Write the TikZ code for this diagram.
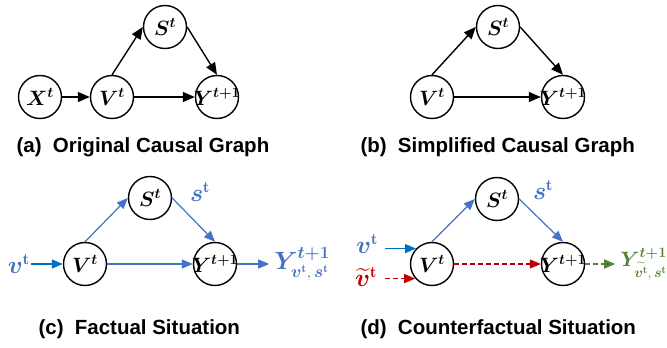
\documentclass[tikz,border=0pt]{standalone}
\usepackage{amsmath, bm}
\usepackage{fontspec}
\newfontfamily\capfont{Liberation Sans}
\usepackage{tikz}
\usetikzlibrary{positioning,arrows.meta}
\definecolor{EdgeBlue}{RGB}{68,114,196}
\definecolor{InBlue}{RGB}{0,112,192}
\definecolor{CfRed}{RGB}{192,0,0}
\definecolor{OutGreen}{RGB}{84,130,53}
\newcommand{\inmath}[1]{\makebox[0pt]{$#1$}}

\begin{document}
\begin{tikzpicture}[
    x=1pt, y=-1pt,
    var/.style={circle, draw=black, line width=1.4pt, minimum size=43pt, inner sep=0pt,
        font=\fontsize{22.5}{27}\selectfont},
    caption/.style={anchor=west, font=\capfont\bfseries\fontsize{20.5}{24}\selectfont},
    lbl/.style={font=\fontsize{23}{27}\selectfont, inner sep=1pt},
    arr/.style={-{Triangle[length=12pt,width=10pt]}, line width=1.4pt},
    barr/.style={-{Triangle[length=11pt,width=9pt]}, line width=1.2pt, draw=EdgeBlue, color=EdgeBlue},
    inarr/.style={barr, draw=InBlue, color=InBlue},
    redarr/.style={barr, draw=CfRed, color=CfRed, dash pattern=on 5pt off 3pt},
    greenarr/.style={barr, draw=OutGreen, color=OutGreen, dash pattern=on 5pt off 3pt},
]
\useasboundingbox (0,0) rectangle (667,348);

% (a) original causal graph
\node[var] (xa) at (40,97) {\inmath{\bm{X^t}}};
\node[var] (va) at (112,97) {\inmath{\bm{V^t}}};
\node[var] (sa) at (165,27) {\inmath{\bm{S^t}}};
\node[var] (ya) at (217,97) {\inmath{\bm{Y^{t+1}}}};
\draw[arr] (xa) -- (va);
\draw[arr] (va.north) -- (sa.west);
\draw[arr] (sa.east) -- (ya.north);
\draw[arr] (va) -- (ya);
\node[caption] (capa) at (13,147) {(a)\hspace{0.55em}Original Causal Graph};

% (b) simplified causal graph
\node[var] (vb) at (432,97) {\inmath{\bm{V^t}}};
\node[var] (sb) at (498,27) {\inmath{\bm{S^t}}};
\node[var] (yb) at (563,97) {\inmath{\bm{Y^{t+1}}}};
\draw[arr] (vb.north) -- (sb.west);
\draw[arr] (sb.east) -- (yb.north);
\draw[arr] (vb) -- (yb);
\node[caption] (capb) at (357,147) {(b)\hspace{0.55em}Simplified Causal Graph};

% (c) factual situation
\node[var] (vc) at (85,264) {\inmath{\bm{V^t}}};
\node[var] (sc) at (150,198) {\inmath{\bm{S^t}}};
\node[var] (yc) at (215,264) {\inmath{\bm{Y^{t+1}}}};
\node[lbl, EdgeBlue, left=32pt of vc] (vtc) {$\bm{v}^{\mathbf{t}}$};
\node[lbl, EdgeBlue] (stc) at (200,192) {$\bm{s}^{\mathbf{t}}$};
\node[lbl, EdgeBlue, right=36pt of yc] (youtc)
    {$\bm{Y}^{\bm{t+1}}_{\bm{v}^{\mathbf{t}},\,\bm{s}^{\mathbf{t}}}$};
\draw[inarr] (vtc) -- (vc);
\draw[barr] (vc.north) -- (sc.west);
\draw[barr] (sc.east) -- (yc.north);
\draw[barr] (vc) -- (yc);
\draw[barr, shorten >=4pt] (yc) -- (youtc);
\node[caption] (capc) at (35,329) {(c)\hspace{0.55em}Factual Situation};

% (d) counterfactual situation
\node[var] (vd) at (432,264) {\inmath{\bm{V^t}}};
\node[var] (sd) at (497,199) {\inmath{\bm{S^t}}};
\node[var] (yd) at (563,264) {\inmath{\bm{Y^{t+1}}}};
\node[lbl, EdgeBlue] (vtd) at (367,244) {$\bm{v}^{\mathbf{t}}$};
\node[lbl, CfRed] (vtdt) at (366,277) {$\widetilde{\bm{v}}^{\mathbf{t}}$};
\node[lbl, EdgeBlue] (std) at (543,190) {$\bm{s}^{\mathbf{t}}$};
\node[lbl, OutGreen, font=\fontsize{21}{25}\selectfont, right=34pt of yd] (youtd)
    {$\bm{Y}^{\bm{t+1}}_{\widetilde{\bm{v}^{\mathbf{t}}},\,\bm{s}^{\mathbf{t}}}$};
\draw[inarr] (vd.136 -| 385,0) -- (vd.136);
\draw[redarr] (vd.221 -| 385,0) -- (vd.221);
\draw[barr] (vd.north) -- (sd.west);
\draw[barr] (sd.east) -- (yd.north);
\draw[redarr] (vd) -- (yd);
\draw[greenarr, shorten >=4pt] (yd) -- (youtd);
\node[caption] (capd) at (357,329) {(d)\hspace{0.55em}Counterfactual Situation};
\end{tikzpicture}
\end{document}
